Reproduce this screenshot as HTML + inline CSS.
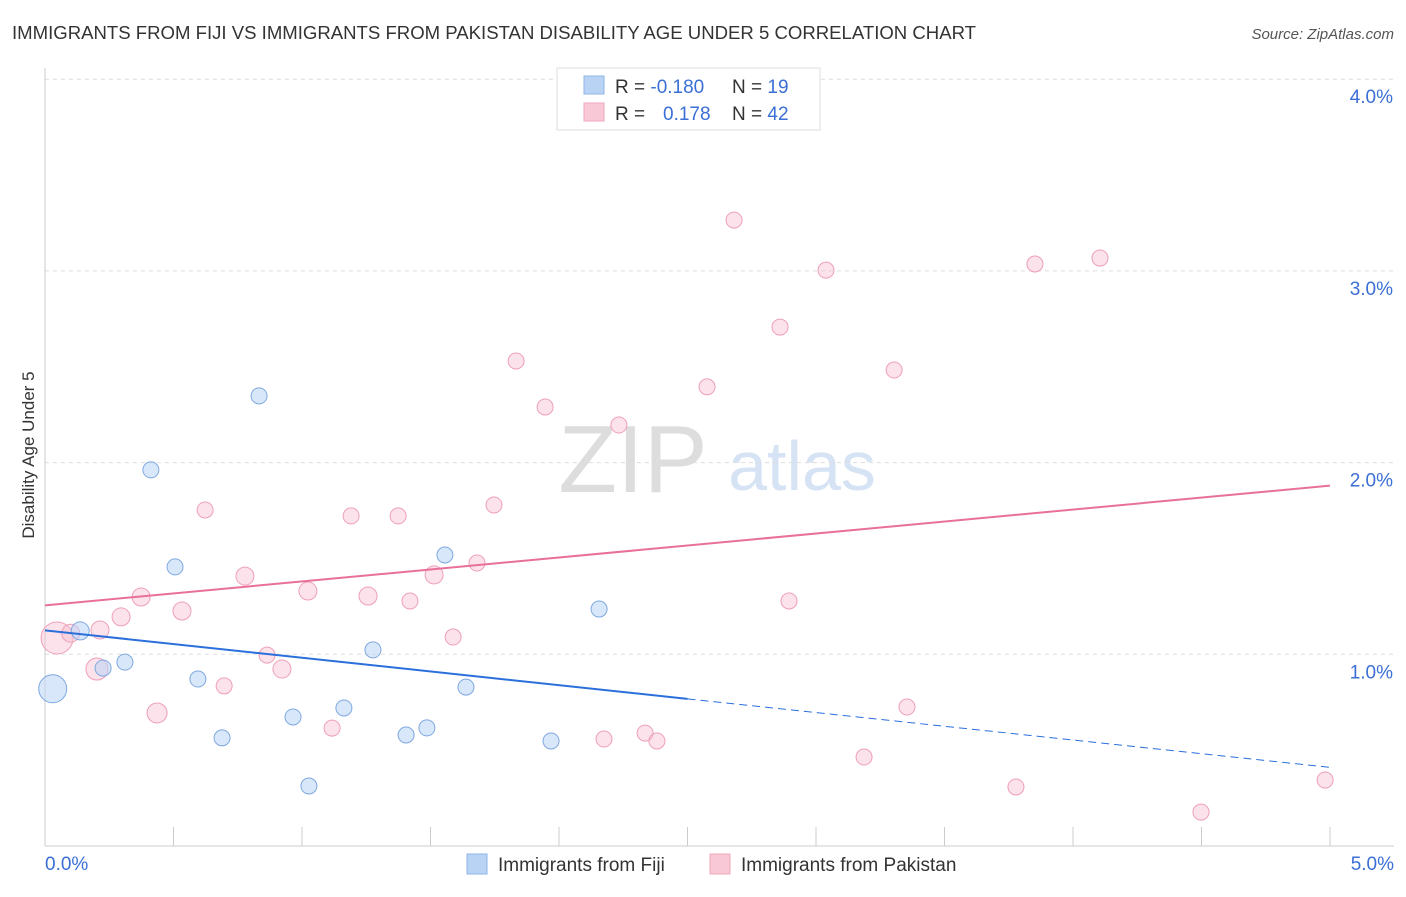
<!DOCTYPE html>
<html><head><meta charset="utf-8"><style>
body{margin:0;background:#fff;font-family:"Liberation Sans",sans-serif}
svg text{font-family:"Liberation Sans",sans-serif}
</style></head><body>
<svg id="c" width="1406" height="892">
<text x="12" y="39" font-size="18" fill="#333" textLength="964" lengthAdjust="spacingAndGlyphs">IMMIGRANTS FROM FIJI VS IMMIGRANTS FROM PAKISTAN DISABILITY AGE UNDER 5 CORRELATION CHART</text>
<text x="1394" y="39" font-size="15" fill="#555" text-anchor="end" font-style="italic">Source: ZipAtlas.com</text>
<text x="633" y="492" font-size="96" fill="#ddd" font-family="Liberation Serif" text-anchor="middle">ZIP</text>
<text x="802" y="490" font-size="70" fill="#d6e3f5" text-anchor="middle">atlas</text>
<text transform="translate(34,455) rotate(-90)" font-size="17" fill="#333" text-anchor="middle">Disability Age Under 5</text>
<g id="grid"></g><g id="marks"></g>
<g>
<rect x="557" y="68" width="263" height="62" fill="#fff" stroke="#ddd"/>
<rect x="584" y="76" width="20" height="18" fill="#b9d3f5" stroke="#8fb4e8"/>
<rect x="584" y="103" width="20" height="18" fill="#f9c8d6" stroke="#eea8bc"/>
<text x="615" y="93" font-size="19" fill="#333">R = <tspan fill="#3b6fd6">-0.180</tspan><tspan x="732">N = </tspan><tspan fill="#3b6fd6">19</tspan></text>
<text x="615" y="120" font-size="19" fill="#333">R = <tspan x="663" fill="#3b6fd6">0.178</tspan><tspan x="732">N = </tspan><tspan fill="#3b6fd6">42</tspan></text>
</g>
<g>
<rect x="467" y="854" width="20" height="20" fill="#b9d3f5" stroke="#8fb4e8"/>
<text x="498" y="871" font-size="19" fill="#333">Immigrants from Fiji</text>
<rect x="710" y="854" width="20" height="20" fill="#f9c8d6" stroke="#eea8bc"/>
<text x="741" y="871" font-size="19" fill="#333">Immigrants from Pakistan</text>
</g>
</svg>
<script>
const fijiX=[0.03,0.137,0.226,0.311,0.412,0.506,0.595,0.689,0.833,0.965,1.027,1.163,1.276,1.405,1.486,1.556,1.638,1.969,2.156];
const fijiY=[0.820,1.122,0.928,0.959,1.962,1.456,0.871,0.564,2.348,0.673,0.313,0.720,1.023,0.579,0.616,1.518,0.829,0.548,1.236];
const fijiR=[14,9,8,8,8,8,8,8,8,8,8,8,8,8,8,8,8,8,8];
const pakX=[0.047,0.214,0.202,0.296,0.374,0.436,0.533,0.623,0.697,0.778,0.864,0.922,1.023,1.117,1.191,1.257,1.374,1.420,1.514,1.588,1.681,1.747,1.833,1.946,2.175,2.233,2.335,2.381,2.576,2.681,2.860,2.895,3.039,3.187,3.304,3.354,3.778,3.852,4.105,4.498,4.981,0.10];
const pakY=[1.085,1.127,0.923,1.195,1.299,0.694,1.226,1.753,0.835,1.408,0.996,0.923,1.330,0.615,1.722,1.304,1.722,1.278,1.414,1.090,1.476,1.779,2.530,2.290,0.558,2.196,0.589,0.548,2.395,3.265,2.707,1.278,3.004,0.464,2.483,0.725,0.308,3.036,3.067,0.177,0.344,1.11];
const pakR=[16,9,11,9,9,10,9,8,8,9,8,9,9,8,8,9,8,8,9,8,8,8,8,8,8,8,8,8,8,8,8,8,8,8,8,8,8,8,8,8,8,9];
const yTicks=[1,2,3,4];
const xTickCount=10;
const fijiTrend=[1.125,0.41];
const pakTrend=[1.255,1.88];
const X=v=>45+v*257, Y=v=>846-v*191.7;
const NS="http://www.w3.org/2000/svg";
function mk(t,a,p){const e=document.createElementNS(NS,t);for(const k in a)e.setAttribute(k,a[k]);p.appendChild(e);return e;}
const g=document.getElementById('grid'),m=document.getElementById('marks');
yTicks.forEach(t=>{const l=mk('line',{x1:45,x2:1394,y1:Y(t),y2:Y(t),stroke:'#ddd','stroke-dasharray':'4,4'},g);


const tx=mk('text',{x:1393,y:Y(t)+24,'font-size':19,fill:'#3b6fd6','text-anchor':'end'},g);tx.textContent=t.toFixed(1)+'%';

});
const ya=mk('line',{x1:45,x2:45,y1:68,y2:846,stroke:'#ccc'},g);


const xa=mk('line',{x1:45,x2:1394,y1:846,y2:846,stroke:'#ccc'},g);


for(let i=1;i<=xTickCount;i++){const t=mk('line',{x1:X(i*0.5),x2:X(i*0.5),y1:827,y2:846,stroke:'#ccc'},g);

}
[['0.0%',45,'start'],['5.0%',1394,'end']].forEach(a=>{const t=mk('text',{x:a[1],y:870,'font-size':19,fill:'#3b6fd6','text-anchor':a[2]},g);t.textContent=a[0];

});
pakX.forEach((v,i)=>{const c=mk('circle',{cx:X(v),cy:Y(pakY[i]),r:pakR[i],fill:'rgba(249,190,208,0.45)',stroke:'#eea0b8','stroke-width':1},m);

});
fijiX.forEach((v,i)=>{const c=mk('circle',{cx:X(v),cy:Y(fijiY[i]),r:fijiR[i],fill:'rgba(185,211,245,0.55)',stroke:'#7fa8e0','stroke-width':1},m);

});
const fy=x=>fijiTrend[0]+(fijiTrend[1]-fijiTrend[0])*x/5;
const l1=mk('line',{x1:X(0),y1:Y(fy(0)),x2:X(2.5),y2:Y(fy(2.5)),stroke:'#2a6fdb','stroke-width':2},m);


const l2=mk('line',{x1:X(2.5),y1:Y(fy(2.5)),x2:X(5),y2:Y(fy(5)),stroke:'#2a6fdb','stroke-width':1,'stroke-dasharray':'8,5'},m);


const l3=mk('line',{x1:X(0),y1:Y(pakTrend[0]),x2:X(5),y2:Y(pakTrend[1]),stroke:'#e8709a','stroke-width':2},m);


</script>
</body></html>
